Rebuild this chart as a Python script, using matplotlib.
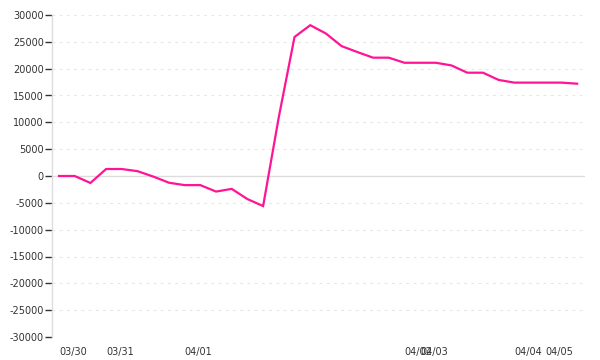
import matplotlib
matplotlib.use("Agg")
import matplotlib.pyplot as plt
import numpy as np

# Data
values = [0, 0, -1300, 1300, 1300, 900, -100, -1250, -1700, -1700,
          -2900, -2400, -4300, -5600, 11000, 25900, 28100, 26550, 24200, 23100,
          22050, 22050, 21100, 21100, 21100, 20600, 19250, 19250, 17900, 17400,
          17400, 17400, 17400, 17200]
tick_index = [0, 3, 8, 22, 23, 29, 31]
tick_labels = ["03/30", "03/31", "04/01", "04/02", "04/03", "04/04", "04/05"]
y_ticks = list(range(-30000, 30001, 5000))

fig = plt.figure(figsize=(6, 3.6), dpi=100)
ax = fig.add_axes([52/600, 1 - 337/360, (585-52)/600, (337-15)/360])

x = np.arange(len(values))
ax.plot(x, values, color="#ff1493", lw=1.6, solid_joinstyle="miter", zorder=3)

ax.set_xlim(-0.446, len(values) - 0.5)
ax.set_ylim(-30000, 30000)

for yv in y_ticks:
    if yv == 0:
        ax.axhline(0, color="#dddddd", lw=1, zorder=1)
    else:
        ax.axhline(yv, color="#e6e6e6", lw=0.8, ls=(0, (2.5, 4)), zorder=1)

ax.set_yticks(y_ticks)
ax.set_yticklabels([str(v) for v in y_ticks])
ax.set_xticks(tick_index)
ax.set_xticklabels(tick_labels, ha="left")

ax.tick_params(axis="y", length=5, width=1, color="#333333", labelsize=7,
               labelcolor="#333333", pad=1)
ax.tick_params(axis="x", length=0, labelsize=7, labelcolor="#333333", pad=7)

for s in ["top", "right", "bottom"]:
    ax.spines[s].set_visible(False)
ax.spines["left"].set_color("#dddddd")
ax.spines["left"].set_linewidth(1)

fig.savefig("out.png", dpi=100, facecolor="white")
